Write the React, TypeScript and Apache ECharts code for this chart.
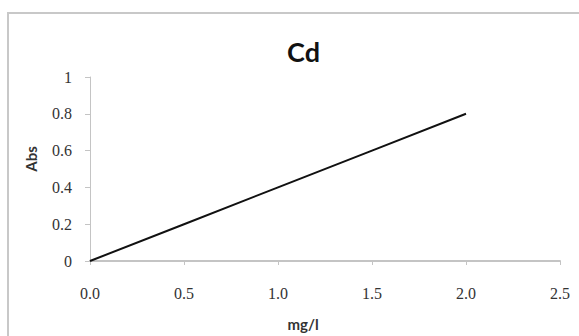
import React, { useEffect, useRef } from "react";
import * as echarts from "echarts";

const concentrations = [0, 0.5, 1.0, 1.5, 2.0];
const absorbance = [0, 0.2, 0.4, 0.6, 0.8];
const titleText = "Cd";
const xName = "mg/l";
const yName = "Abs";

export default function App() {
  const ref = useRef<HTMLDivElement>(null);
  useEffect(() => {
    if (!ref.current) return;
    const chart = echarts.init(ref.current, null, { renderer: "svg" });
    chart.setOption({
      animation: false,
      backgroundColor: "#ffffff",
      title: {
        text: titleText,
        left: 282,
        top: 33,
        textStyle: { fontFamily: "Lato", fontWeight: "bold", fontSize: 27, color: "#111" },
      },
      graphic: [
        {
          type: "rect",
          shape: { x: 8, y: 13, width: 640, height: 400 },
          style: { fill: "none", stroke: "#c8c8c8", lineWidth: 2 },
          silent: true,
        },
      ],
      grid: { left: 90, right: 19, top: 77, bottom: 73 },
      xAxis: {
        type: "value",
        min: 0,
        max: 2.5,
        interval: 0.5,
        name: xName,
        nameLocation: "middle",
        nameGap: 55,
        nameTextStyle: {
          fontFamily: "Lato",
          fontWeight: "bold",
          fontSize: 15,
          color: "#333",
          padding: [0, 44, 0, 0],
        },
        axisLine: { show: true, lineStyle: { color: "#c4c4c4", width: 2 } },
        axisTick: { show: true, inside: false, length: 4, lineStyle: { color: "#c4c4c4" } },
        axisLabel: {
          margin: 24,
          formatter: (v: number) => v.toFixed(1),
          fontFamily: "Liberation Serif",
          fontSize: 16,
          color: "#333",
        },
        splitLine: { show: false },
      },
      yAxis: {
        type: "value",
        min: 0,
        max: 1,
        interval: 0.2,
        name: yName,
        nameLocation: "middle",
        nameGap: 52,
        nameRotate: 90,
        nameTextStyle: {
          fontFamily: "Lato",
          fontWeight: "bold",
          fontSize: 15,
          color: "#333",
          padding: [0, 0, 0, 20],
        },
        axisLine: { show: true, lineStyle: { color: "#c4c4c4", width: 1 } },
        axisTick: { show: true, inside: false, length: 5, lineStyle: { color: "#c4c4c4" } },
        axisLabel: {
          margin: 18,
          fontFamily: "Liberation Serif",
          fontSize: 16,
          color: "#333",
        },
        splitLine: { show: false },
      },
      series: [
        {
          type: "line",
          data: concentrations.map((x, i) => [x, absorbance[i]]),
          showSymbol: false,
          lineStyle: { color: "#111", width: 2 },
        },
      ],
    });
    return () => chart.dispose();
  }, []);
  return (
    <div
      ref={ref}
      style={{ position: "absolute", left: 0, top: 0, width: 579, height: 336 }}
    />
  );
}
